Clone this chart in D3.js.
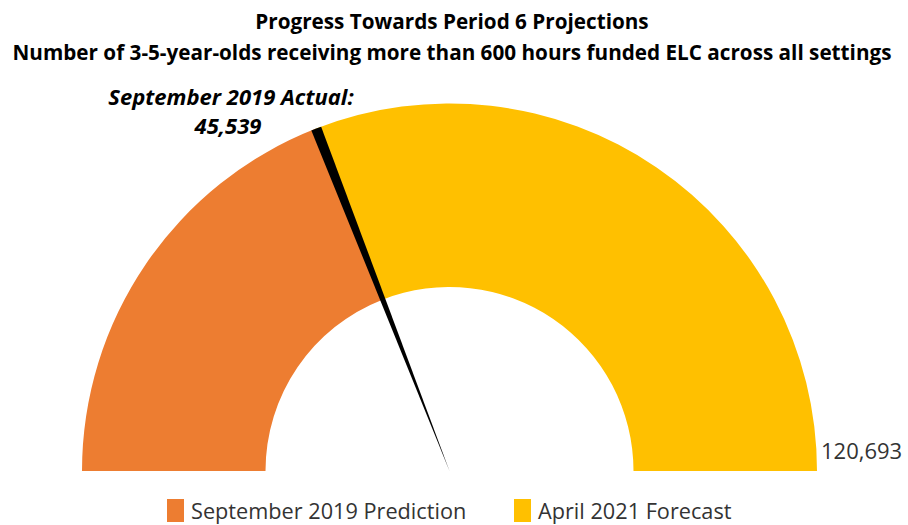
<!DOCTYPE html>
<html>
<head>
<meta charset="utf-8">
<script src="https://cdn.jsdelivr.net/npm/d3@7"></script>
<style>
  body { margin: 0; background: #fff; }
  text { font-family: "Open Sans", sans-serif; }
</style>
</head>
<body>
<div id="chart"></div>
<script>
// data
const categories = ["September 2019 Prediction", "April 2021 Forecast"];
const values = [46000, 74693];           // orange + yellow = total
const colors = ["#ED7D31", "#FFC000"];
const actual = 45539;
const total = 120693;
const needleSpan = 1100;                 // width of the pointer slice, in value units
const titleLines = ["Progress Towards Period 6 Projections",
  "Number of 3-5-year-olds receiving more than 600 hours funded ELC across all settings"];

const width = 908, height = 525;
const cx = 449.5, cy = 471;
const outerR = 367.5, innerR = 184;

const svg = d3.select("#chart")
  .append("svg")
  .attr("width", width)
  .attr("height", height);

// value -> angle, left end of the half circle to the right end
const angle = d3.scaleLinear()
  .domain([0, total])
  .range([-Math.PI / 2, Math.PI / 2]);

const arc = d3.arc().innerRadius(innerR).outerRadius(outerR);

let start = 0;
const segs = values.map((v, i) => {
  const s = { start: start, end: start + v, color: colors[i], name: categories[i] };
  start += v;
  return s;
});

const g = svg.append("g").attr("transform", `translate(${cx},${cy})`);

g.selectAll("path.seg")
  .data(segs)
  .enter().append("path")
    .attr("class", "seg")
    .attr("fill", d => d.color)
    .attr("d", d => arc({ startAngle: angle(d.start), endAngle: angle(d.end) }));

// pointer: a thin pie slice from the centre out to the outer edge
g.append("path")
  .attr("fill", "#000")
  .attr("d", d3.arc().innerRadius(0).outerRadius(outerR)({
    startAngle: angle(actual), endAngle: angle(actual + needleSpan)
  }));

// titles
svg.selectAll("text.title")
  .data(titleLines)
  .enter().append("text")
    .attr("class", "title")
    .attr("x", 452)
    .attr("y", (d, i) => 29 + i * 31)
    .attr("text-anchor", "middle")
    .style("font-weight", "bold")
    .style("font-size", "20.7px")
    .style("fill", "#000")
    .text(d => d);

// actual value label
const lab = svg.append("text")
  .attr("text-anchor", "middle")
  .style("font-weight", "bold")
  .style("font-style", "italic")
  .style("font-size", "22px")
  .style("fill", "#000");
lab.append("tspan").attr("x", 231).attr("y", 105).text("September 2019 Actual:");
lab.append("tspan").attr("x", 228).attr("y", 134).text(d3.format(",")(actual));

// end value
svg.append("text")
  .attr("x", cx + outerR + 4)
  .attr("y", cy - 12)
  .style("font-size", "22px")
  .style("fill", "#333")
  .text(d3.format(",")(total));

// legend
const legX = [167, 514];
const leg = svg.selectAll("g.leg")
  .data(segs)
  .enter().append("g")
    .attr("class", "leg")
    .attr("transform", (d, i) => `translate(${legX[i]},499)`);
leg.append("rect")
  .attr("width", 17).attr("height", 23)
  .attr("fill", d => d.color);
leg.append("text")
  .attr("x", 24).attr("y", 20)
  .style("font-size", "21.7px")
  .style("fill", "#333")
  .text(d => d.name);
</script>
</body>
</html>
